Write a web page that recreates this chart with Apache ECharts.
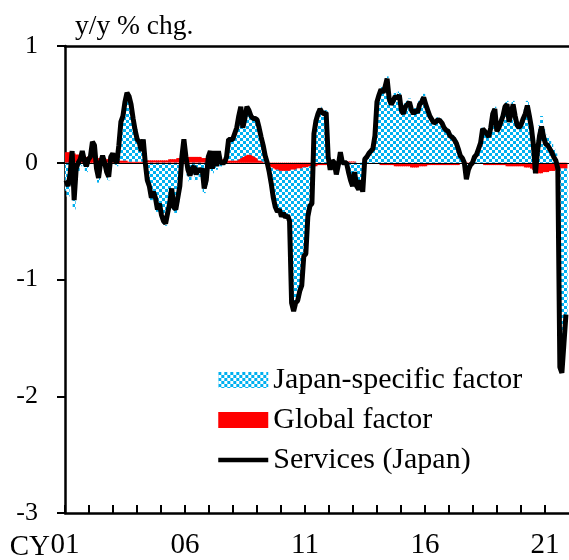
<!DOCTYPE html>
<html lang="en">
<head>
  <meta charset="UTF-8">
  <title>Services (Japan)</title>
  <script src="https://cdn.jsdelivr.net/npm/echarts@6/dist/echarts.min.js"></script>
  <style>
    html, body { margin: 0; padding: 0; background: #fff; }
    #main { width: 569px; height: 560px; }
  </style>
</head>
<body>
  <div id="main"></div>
  <script>
    // monthly data, y/y % chg.
    var firstYear = 2001
    var lastMonth = '2021/08'          // axis runs one month past the data
    var tickLabels = ['01', '06', '11', '16', '21']
    var yearSpan = 21                  // CY01 .. CY22 along the bottom axis

    var services = [
      -0.15, -0.2, -0.1, 0.1, -0.32, -0.05, 0.0, 0.03, 0.1, 0.02, -0.03, 0.03,     // 01
      0.05, 0.18, 0.15, -0.05, -0.13, 0.0, 0.06, 0.0, -0.08, -0.12, 0.05, 0.08,     // 02
      0.02, 0.0, 0.15, 0.35, 0.4, 0.52, 0.6, 0.57, 0.5, 0.38, 0.28, 0.2,            // 03
      0.18, 0.1, 0.2, 0.0, -0.15, -0.2, -0.3, -0.25, -0.3, -0.4, -0.35, -0.45,      // 04
      -0.5, -0.52, -0.43, -0.35, -0.22, -0.38, -0.4, -0.3, -0.2, 0.05, 0.2, 0.05,   // 05
      -0.06, -0.11, -0.05, -0.03, -0.1, -0.05, -0.08, -0.05, -0.22, -0.15, 0.05, 0.1, // 06
      -0.05, 0.1, -0.03, 0.1, 0.0, 0.0, 0.0, 0.05, 0.2, 0.2, 0.2, 0.25,             // 07
      0.3, 0.4, 0.48, 0.3, 0.38, 0.48, 0.45, 0.4, 0.38, 0.38, 0.37, 0.3,            // 08
      0.22, 0.15, 0.06, 0.0, -0.08, -0.18, -0.3, -0.38, -0.42, -0.4, -0.46, -0.43,  // 09
      -0.47, -0.45, -0.5, -1.2, -1.27, -1.2, -1.18, -1.1, -1.05, -0.8, -0.78, -0.46, // 10
      -0.37, -0.35, 0.25, 0.36, 0.42, 0.46, 0.43, 0.42, 0.43, 0.05, -0.06, 0.02,    // 11
      0.0, -0.1, -0.02, 0.09, 0.0, 0.0, 0.0, -0.08, -0.15, -0.2, -0.08, -0.2,       // 12
      -0.23, -0.15, -0.25, 0.03, 0.05, 0.08, 0.1, 0.12, 0.23, 0.52, 0.58, 0.63,     // 13
      0.6, 0.65, 0.72, 0.55, 0.5, 0.53, 0.57, 0.55, 0.58, 0.45, 0.42, 0.48,         // 14
      0.5, 0.52, 0.45, 0.42, 0.45, 0.43, 0.5, 0.52, 0.56, 0.5, 0.45, 0.4,           // 15
      0.37, 0.34, 0.35, 0.37, 0.36, 0.34, 0.3, 0.28, 0.27, 0.23, 0.22, 0.2,         // 16
      0.17, 0.12, 0.06, 0.04, 0.0, -0.14, -0.06, -0.02, 0.0, 0.05, 0.07, 0.12,      // 17
      0.17, 0.29, 0.27, 0.25, 0.22, 0.3, 0.42, 0.46, 0.27, 0.3, 0.35, 0.4,          // 18
      0.48, 0.5, 0.35, 0.42, 0.5, 0.4, 0.32, 0.3, 0.33, 0.38, 0.42, 0.49,           // 19
      0.4, 0.3, 0.15, -0.09, 0.1, 0.23, 0.31, 0.22, 0.16, 0.15, 0.12, 0.09,         // 20
      0.05, 0.02, -0.05, -1.75, -1.8, -1.55, -1.3                                    // 21
    ]

    var japanFactor = [
      -0.24, -0.29, -0.19, 0.02, -0.40, -0.12, -0.07, -0.03, 0.04, -0.03, -0.08, -0.02,
      0.0, 0.13, 0.11, -0.09, -0.17, -0.04, 0.02, -0.04, -0.11, -0.15, 0.02, 0.05,
      -0.01, -0.03, 0.13, 0.33, 0.38, 0.50, 0.58, 0.56, 0.49, 0.37, 0.27, 0.19,
      0.17, 0.09, 0.19, -0.02, -0.17, -0.22, -0.32, -0.27, -0.32, -0.42, -0.37, -0.47,
      -0.52, -0.54, -0.45, -0.38, -0.25, -0.41, -0.43, -0.34, -0.24, 0.01, 0.15, 0.0,
      -0.11, -0.16, -0.10, -0.08, -0.15, -0.10, -0.13, -0.09, -0.26, -0.19, 0.01, 0.06,
      -0.09, 0.07, -0.06, 0.07, -0.03, -0.03, -0.02, 0.03, 0.18, 0.18, 0.18, 0.23,
      0.28, 0.37, 0.44, 0.25, 0.32, 0.41, 0.38, 0.33, 0.32, 0.33, 0.33, 0.28,
      0.20, 0.14, 0.06, 0.01, -0.05, -0.14, -0.25, -0.32, -0.36, -0.33, -0.39, -0.36,
      -0.40, -0.38, -0.43, -1.14, -1.21, -1.14, -1.13, -1.05, -1.00, -0.76, -0.74, -0.42,
      -0.34, -0.32, 0.28, 0.39, 0.44, 0.48, 0.45, 0.44, 0.45, 0.06, -0.05, 0.03,
      0.01, -0.10, -0.02, 0.09, 0.0, -0.01, -0.01, -0.09, -0.16, -0.21, -0.09, -0.20,
      -0.23, -0.15, -0.25, 0.03, 0.05, 0.08, 0.10, 0.13, 0.24, 0.53, 0.59, 0.65,
      0.62, 0.67, 0.74, 0.57, 0.52, 0.55, 0.60, 0.58, 0.61, 0.48, 0.45, 0.51,
      0.53, 0.55, 0.49, 0.46, 0.49, 0.47, 0.53, 0.55, 0.59, 0.53, 0.47, 0.42,
      0.39, 0.36, 0.37, 0.39, 0.38, 0.36, 0.32, 0.30, 0.29, 0.25, 0.24, 0.22,
      0.19, 0.14, 0.07, 0.05, 0.01, -0.13, -0.05, -0.01, 0.01, 0.06, 0.08, 0.13,
      0.18, 0.30, 0.29, 0.27, 0.24, 0.32, 0.44, 0.48, 0.29, 0.32, 0.37, 0.42,
      0.50, 0.53, 0.38, 0.45, 0.53, 0.43, 0.35, 0.33, 0.36, 0.41, 0.46, 0.53,
      0.44, 0.35, 0.21, -0.01, 0.19, 0.32, 0.40, 0.30, 0.24, 0.23, 0.19, 0.16,
      0.12, 0.08, 0.01, -1.70, -1.75, -1.50, -1.25
    ]

    var globalFactor = [
      0.09, 0.09, 0.09, 0.08, 0.08, 0.07, 0.07, 0.06, 0.06, 0.05, 0.05, 0.05,
      0.05, 0.05, 0.04, 0.04, 0.04, 0.04, 0.04, 0.04, 0.03, 0.03, 0.03, 0.03,
      0.03, 0.03, 0.02, 0.02, 0.02, 0.02, 0.02, 0.01, 0.01, 0.01, 0.01, 0.01,
      0.01, 0.01, 0.01, 0.02, 0.02, 0.02, 0.02, 0.02, 0.02, 0.02, 0.02, 0.02,
      0.02, 0.02, 0.02, 0.03, 0.03, 0.03, 0.03, 0.04, 0.04, 0.04, 0.05, 0.05,
      0.05, 0.05, 0.05, 0.05, 0.05, 0.05, 0.05, 0.04, 0.04, 0.04, 0.04, 0.04,
      0.04, 0.03, 0.03, 0.03, 0.03, 0.03, 0.02, 0.02, 0.02, 0.02, 0.02, 0.02,
      0.02, 0.03, 0.04, 0.05, 0.06, 0.07, 0.07, 0.07, 0.06, 0.05, 0.04, 0.02,
      0.02, 0.01, 0.0, -0.01, -0.03, -0.04, -0.05, -0.06, -0.06, -0.07, -0.07, -0.07,
      -0.07, -0.07, -0.07, -0.06, -0.06, -0.06, -0.05, -0.05, -0.05, -0.04, -0.04, -0.04,
      -0.03, -0.03, -0.03, -0.03, -0.02, -0.02, -0.02, -0.02, -0.02, -0.01, -0.01, -0.01,
      -0.01, 0.0, 0.0, 0.0, 0.0, 0.01, 0.01, 0.01, 0.01, 0.01, 0.01, 0.0,
      0.0, 0.0, 0.0, 0.0, 0.0, 0.0, 0.0, -0.01, -0.01, -0.01, -0.01, -0.02,
      -0.02, -0.02, -0.02, -0.02, -0.02, -0.02, -0.03, -0.03, -0.03, -0.03, -0.03, -0.03,
      -0.03, -0.03, -0.04, -0.04, -0.04, -0.04, -0.03, -0.03, -0.03, -0.03, -0.02, -0.02,
      -0.02, -0.02, -0.02, -0.02, -0.02, -0.02, -0.02, -0.02, -0.02, -0.02, -0.02, -0.02,
      -0.02, -0.02, -0.01, -0.01, -0.01, -0.01, -0.01, -0.01, -0.01, -0.01, -0.01, -0.01,
      -0.01, -0.01, -0.02, -0.02, -0.02, -0.02, -0.02, -0.02, -0.02, -0.02, -0.02, -0.02,
      -0.02, -0.03, -0.03, -0.03, -0.03, -0.03, -0.03, -0.03, -0.03, -0.03, -0.04, -0.04,
      -0.04, -0.05, -0.06, -0.08, -0.09, -0.09, -0.09, -0.08, -0.08, -0.08, -0.07, -0.07,
      -0.07, -0.06, -0.06, -0.05, -0.05, -0.05, -0.05
    ]

    // month categories
    var months = []
    for (var y = firstYear; ; y++) {
      var done = false
      for (var m = 1; m <= 12; m++) {
        var key = y + '/' + (m < 10 ? '0' + m : m)
        months.push(key)
        if (key === lastMonth) { done = true; break }
      }
      if (done) break
    }

    // checkered fill for the Japan-specific bars
    var pat = document.createElement('canvas')
    pat.width = 6
    pat.height = 6
    var pc = pat.getContext('2d')
    pc.fillStyle = '#ffffff'
    pc.fillRect(0, 0, 6, 6)
    pc.fillStyle = '#00b0f0'
    pc.fillRect(0, 0, 3, 3)
    pc.fillRect(3, 3, 3, 3)
    var checker = { image: pat, repeat: 'repeat' }

    var serif = 'Liberation Serif'
    var chart = echarts.init(document.getElementById('main'))

    var option = {
      animation: false,
      backgroundColor: '#fff',
      grid: { left: 65, right: 0, top: 46, bottom: 46 },
      graphic: [
        { type: 'text', left: 75, top: 13,
          style: { text: 'y/y % chg.', font: '27.5px "Liberation Serif"', fill: '#000' } },
        { type: 'text', x: 50, y: 547,
          style: { text: 'CY', font: '29px "Liberation Serif"', fill: '#000', align: 'right', verticalAlign: 'middle' } }
      ],
      legend: {
        orient: 'vertical',
        left: 211,
        top: 360,
        itemWidth: 50,
        itemHeight: 16,
        itemGap: 10,
        textStyle: { fontFamily: serif, fontSize: 30, color: '#000' },
        data: [
          { name: 'Japan-specific factor', icon: 'rect' },
          { name: 'Global factor', icon: 'rect' },
          { name: 'Services (Japan)', itemStyle: { opacity: 0 }, lineStyle: { width: 4.5, color: '#000' } }
        ]
      },
      xAxis: [
        {
          // monthly data axis
          type: 'category',
          data: months,
          boundaryGap: true,
          axisLine: { onZero: false, lineStyle: { color: '#000', width: 2.5 } },
          axisTick: { show: false },
          axisLabel: { show: false },
          splitLine: { show: false }
        },
        {
          type: 'category',
          data: months,
          position: 'top',
          axisLine: { onZero: false, lineStyle: { color: '#000', width: 2.5 } },
          axisTick: { show: false },
          axisLabel: { show: false }
        },
        {
          // calendar-year ticks and labels
          type: 'value',
          position: 'bottom',
          min: 0,
          max: yearSpan,
          interval: 1,
          axisLine: { show: false, onZero: false },
          axisTick: { show: true, inside: true, length: 8, lineStyle: { color: '#000', width: 2 } },
          axisLabel: {
            margin: 18,
            fontFamily: serif, fontSize: 29, color: '#000',
            showMaxLabel: false,
            formatter: function (v) {
              var s = String(firstYear + v).slice(2)
              return tickLabels.indexOf(s) >= 0 ? s : ''
            }
          },
          splitLine: { show: false }
        }
      ],
      yAxis: {
        type: 'value',
        min: -3,
        max: 1,
        interval: 1,
        axisLine: { show: true, lineStyle: { color: '#000', width: 2.5 } },
        axisTick: { show: true, length: 8, lineStyle: { color: '#000', width: 2 } },
        axisLabel: { margin: 27, fontFamily: serif, fontSize: 26, color: '#000' },
        splitLine: { show: false }
      },
      series: [
        {
          name: 'Global factor',
          type: 'bar',
          stack: 'total',
          barWidth: 3,
          itemStyle: { color: '#ff0000' },
          data: globalFactor
        },
        {
          name: 'Japan-specific factor',
          type: 'bar',
          stack: 'total',
          barWidth: 3,
          itemStyle: { color: checker },
          data: japanFactor
        },
        {
          name: 'Services (Japan)',
          type: 'line',
          symbol: 'none',
          showSymbol: false,
          lineStyle: { color: '#000', width: 5 },
          itemStyle: { color: '#000' },
          data: services,
          markLine: {
            silent: true,
            symbol: 'none',
            label: { show: false },
            lineStyle: { color: '#000', width: 1, type: 'solid' },
            data: [{ yAxis: 0 }]
          }
        }
      ]
    }
    chart.setOption(option)
  </script>
</body>
</html>
